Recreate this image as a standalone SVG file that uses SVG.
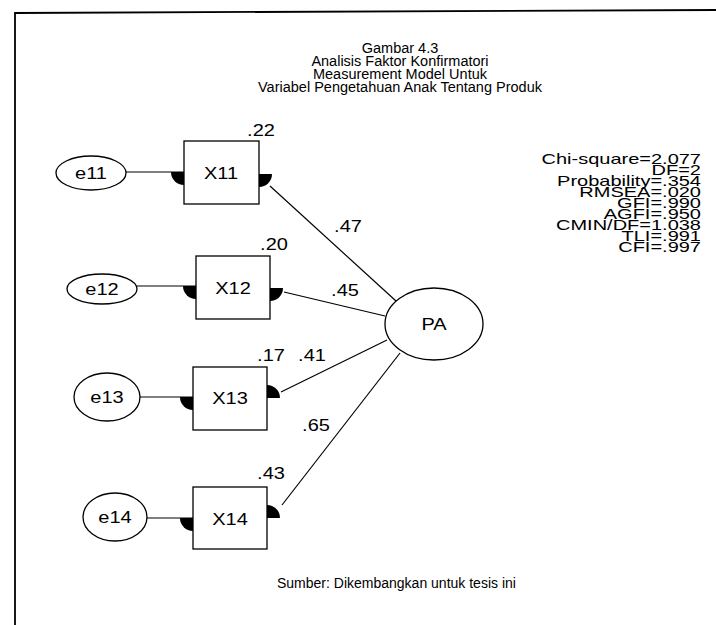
<svg xmlns="http://www.w3.org/2000/svg" width="716" height="625" viewBox="0 0 716 625">
<style>
text { font-family: "Liberation Sans", Arial, sans-serif; fill: #000; }
.title { font-size: 14.5px; text-anchor: middle; transform-box: fill-box; transform-origin: center; transform: scaleY(1.05); }
.stat { font-size: 20px; text-anchor: end; transform-box: fill-box; transform-origin: center; transform: scaleY(0.7); }
.lbl { font-size: 20px; text-anchor: middle; transform-box: fill-box; transform-origin: center; transform: scaleY(0.8); }
.coef { font-size: 20px; text-anchor: middle; transform-box: fill-box; transform-origin: center; transform: scaleY(0.8); }
.src { font-size: 14px; }
.shape { fill: #fff; stroke: #000; stroke-width: 1.3; }
.conn line { stroke: #000; stroke-width: 1.2; }
.head { fill: #000; stroke: none; }
.frame { fill: none; stroke: #000; stroke-width: 1.8; }
</style>
<rect width="716" height="625" fill="#fff"/>
<polyline class="frame" points="716,10 15,13 15,625"/>

<g id="title">
<text class="title" x="400" y="53">Gambar 4.3</text>
<text class="title" x="400" y="66">Analisis Faktor Konfirmatori</text>
<text class="title" x="400" y="79">Measurement Model Untuk</text>
<text class="title" x="400" y="92">Variabel Pengetahuan Anak Tentang Produk</text>
</g>

<g id="fit-stats">
<text class="stat" x="701" y="166">Chi-square=2.077</text>
<text class="stat" x="701" y="177">DF=2</text>
<text class="stat" x="701" y="188">Probability=.354</text>
<text class="stat" x="701" y="199">RMSEA=.020</text>
<text class="stat" x="701" y="210">GFI=.990</text>
<text class="stat" x="701" y="221">AGFI=.950</text>
<text class="stat" x="701" y="232">CMIN/DF=1.038</text>
<text class="stat" x="701" y="243">TLI=.991</text>
<text class="stat" x="701" y="254">CFI=.997</text>
</g>

<g id="connectors" class="conn">
<line x1="126" y1="172" x2="184" y2="172"/>
<line x1="137" y1="286" x2="196" y2="286"/>
<line x1="140" y1="397" x2="193" y2="397"/>
<line x1="147" y1="518" x2="193" y2="518"/>
<line x1="396" y1="301" x2="270" y2="186"/>
<line x1="385" y1="316" x2="284" y2="292"/>
<line x1="387" y1="340" x2="281" y2="392"/>
<line x1="400" y1="353" x2="282" y2="505"/>
</g>

<g id="e11"><ellipse class="shape" cx="91" cy="173" rx="35" ry="17"/><text class="lbl" x="91" y="180">e11</text></g>
<g id="e12"><ellipse class="shape" cx="102" cy="289" rx="35" ry="15"/><text class="lbl" x="102" y="296">e12</text></g>
<g id="e13"><ellipse class="shape" cx="107" cy="397" rx="33" ry="24"/><text class="lbl" x="107" y="404">e13</text></g>
<g id="e14"><ellipse class="shape" cx="115" cy="517" rx="32" ry="24"/><text class="lbl" x="115" y="524">e14</text></g>

<g id="X11"><rect class="shape" x="184" y="141" width="75" height="63"/><text class="lbl" x="221" y="180">X11</text><text class="coef" x="261" y="137">.22</text></g>
<g id="X12"><rect class="shape" x="196" y="256" width="74" height="63"/><text class="lbl" x="233" y="295">X12</text><text class="coef" x="274" y="251">.20</text></g>
<g id="X13"><rect class="shape" x="193" y="367" width="74" height="63"/><text class="lbl" x="230" y="405">X13</text><text class="coef" x="271" y="362">.17</text></g>
<g id="X14"><rect class="shape" x="193" y="487" width="74" height="62"/><text class="lbl" x="230" y="526">X14</text><text class="coef" x="271" y="480">.43</text></g>

<g id="PA"><ellipse class="shape" cx="434" cy="324" rx="49" ry="36"/><text class="lbl" x="434" y="331">PA</text></g>

<g id="arrowheads">
<path class="head" d="M184,172 L171,172 A13,13 0 0 0 184,185 Z"/>
<path class="head" d="M259,174 L272,174 A13,13 0 0 1 259,187 Z"/>
<path class="head" d="M196,286 L183,286 A13,13 0 0 0 196,299 Z"/>
<path class="head" d="M270,288 L283,288 A13,13 0 0 1 270,301 Z"/>
<path class="head" d="M193,397 L180,397 A13,13 0 0 0 193,410 Z"/>
<path class="head" d="M267,398 L267,385 A13,13 0 0 1 280,398 Z"/>
<path class="head" d="M193,518 L180,518 A13,13 0 0 0 193,531 Z"/>
<path class="head" d="M267,518 L267,505 A13,13 0 0 1 280,518 Z"/>
</g>

<g id="loadings">
<text class="coef" x="348" y="233">.47</text>
<text class="coef" x="345" y="297">.45</text>
<text class="coef" x="312" y="362">.41</text>
<text class="coef" x="316" y="432">.65</text>
</g>

<text class="src" x="277" y="588">Sumber: Dikembangkan untuk tesis ini</text>
</svg>
